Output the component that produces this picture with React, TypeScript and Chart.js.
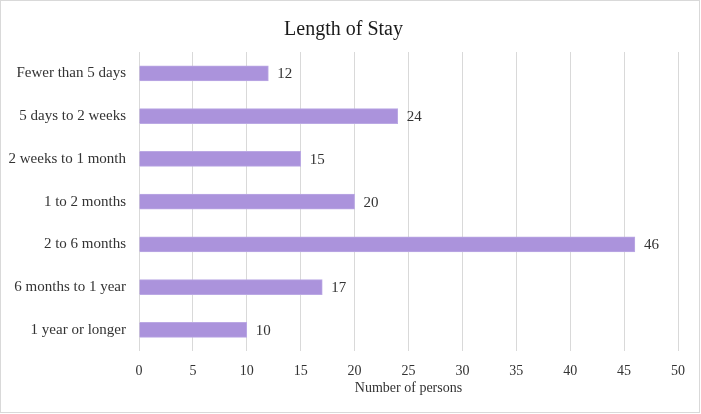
import React, { useEffect, useRef } from "react";
import { Chart, registerables } from "chart.js";

Chart.register(...registerables);

const categories = [
  "Fewer than 5 days",
  "5 days to 2 weeks",
  "2 weeks to 1 month",
  "1 to 2 months",
  "2 to 6 months",
  "6 months to 1 year",
  "1 year or longer",
];
const persons = [12, 24, 15, 20, 46, 17, 10];
const xTitle = "Number of persons";
const chartTitle = "Length of Stay";

const FONT = "'Liberation Serif', 'DejaVu Serif', serif";

const valueLabels = {
  id: "valueLabels",
  afterDatasetsDraw(chart: any) {
    const ctx = chart.ctx;
    const meta = chart.getDatasetMeta(0);
    ctx.save();
    ctx.font = `15px ${FONT}`;
    ctx.fillStyle = "#333333";
    ctx.textAlign = "left";
    ctx.textBaseline = "middle";
    meta.data.forEach((bar: any, i: number) => {
      ctx.fillText(String(chart.data.datasets[0].data[i]), bar.x + 9, bar.y + 1);
    });
    // x-axis title
    const area = chart.chartArea;
    ctx.font = `14px ${FONT}`;
    ctx.textAlign = "center";
    ctx.fillText(xTitle, (area.left + area.right) / 2, area.bottom + 37);
    ctx.restore();
  },
};

export default function App() {
  const ref = useRef<HTMLCanvasElement>(null);
  useEffect(() => {
    document.body.style.margin = "0";
    const chart = new Chart(ref.current!, {
      type: "bar",
      data: {
        labels: categories,
        datasets: [
          {
            data: persons,
            backgroundColor: "#ab93dc",
            borderColor: "#bba9e4",
            borderWidth: 1,
            barThickness: 15,
          },
        ],
      },
      options: {
        indexAxis: "y",
        animation: false,
        responsive: false,
        maintainAspectRatio: false,
        layout: { padding: { top: 17, right: 21, bottom: 20, left: 8 } },
        plugins: {
          legend: { display: false },
          tooltip: { enabled: false },
          title: {
            display: true,
            text: chartTitle,
            color: "#1a1a1a",
            font: { family: FONT, size: 20, weight: "normal" },
            padding: { top: 0, bottom: 10 },
          },
        },
        scales: {
          x: {
            min: 0,
            max: 50,
            ticks: {
              stepSize: 5,
              color: "#333333",
              font: { family: FONT, size: 14 },
              padding: 12,
            },
            grid: { color: "#d9d9d9", drawTicks: false },
            border: { display: false },
          },
          y: {
            ticks: {
              color: "#333333",
              font: { family: FONT, size: 15 },
              padding: 13,
            },
            grid: { display: false, drawTicks: false },
            border: { display: false },
            afterFit: (scale: any) => {
              scale.width = 130;
            },
          },
        },
      },
      plugins: [valueLabels],
    });
    return () => chart.destroy();
  }, []);
  return (
    <div
      style={{
        width: 700,
        height: 413,
        boxSizing: "border-box",
        border: "1px solid #d9d9d9",
        background: "#fff",
      }}
    >
      <canvas ref={ref} width={698} height={411} style={{ display: "block" }} />
    </div>
  );
}
